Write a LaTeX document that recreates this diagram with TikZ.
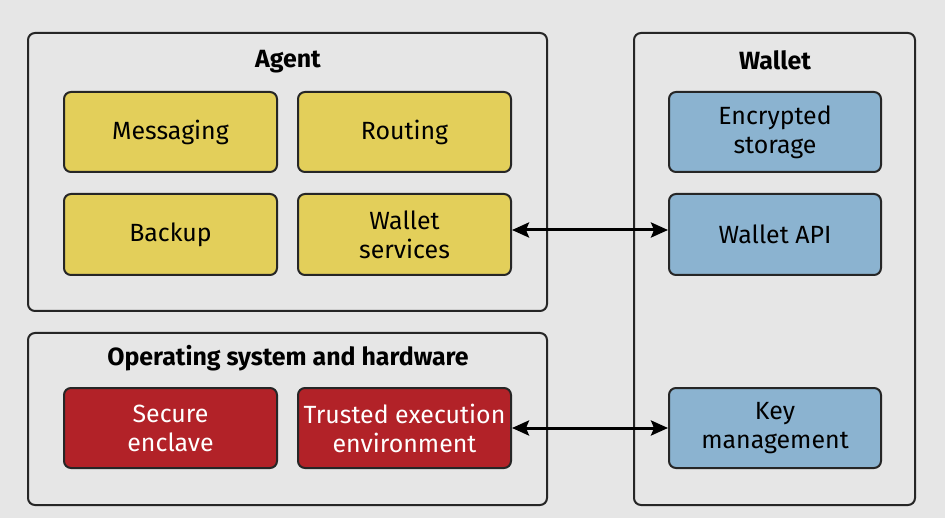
\documentclass[tikz,border=0pt]{standalone}
\usepackage{fontspec}
\setmainfont{Fira Sans}
\usetikzlibrary{arrows.meta}
\definecolor{bg}{HTML}{E6E6E6}
\definecolor{yel}{HTML}{E3CF5A}
\definecolor{blu}{HTML}{8BB3D0}
\definecolor{red1}{HTML}{B22228}
\begin{document}
\begin{tikzpicture}[x=1bp,y=-1bp,
 outer/.style={draw=black!85,line width=2bp,rounded corners=7bp,fill=bg},
 box/.style={draw=black!85,line width=2bp,rounded corners=7bp,align=center,font=\fontsize{25}{29}\selectfont,inner sep=0pt},
 ttl/.style={font=\fontsize{25}{28}\selectfont\bfseries},
 arr/.style={{Stealth[length=17bp,width=15bp,inset=3bp]}-{Stealth[length=17bp,width=15bp,inset=3bp]},line width=3bp}]
\fill[bg] (0,0) rectangle (945,518);
\useasboundingbox (0,0) rectangle (945,518);
\draw[outer] (28,33) rectangle (547,311);
\draw[outer] (28,333) rectangle (547,505);
\draw[outer] (634,33) rectangle (915,505);
\node[ttl] (tA) at (288,62) {Agent};
\node[ttl] (tO) at (288,358) {Operating system and hardware};
\node[ttl] (tW) at (775,60) {Wallet};
\newcommand{\bx}[6]{\draw[box,fill=#6] (#2,#3) rectangle (#4,#5); \coordinate (#1) at ({(#2+#4)/2},{(#3+#5)/2});}
\bx{m}{64}{92}{277}{172}{yel}\node[box,draw=none] (mt) at (m) {Messaging};
\bx{r}{298}{92}{511}{172}{yel}\node[box,draw=none] (rt) at (r) {Routing};
\bx{b}{64}{194}{277}{275}{yel}\node[box,draw=none] (bt) at (b) {Backup};
\bx{ws}{298}{194}{511}{275}{yel}\node[box,draw=none,minimum width=213bp] (wst) at (ws) {Wallet\\services};
\bx{se}{64}{388}{277}{468}{red1}\node[box,draw=none,text=white] (set) at (se) {Secure\\enclave};
\bx{te}{298}{388}{511}{468}{red1}\node[box,draw=none,text=white,minimum width=213bp] (tet) at (te) {Trusted execution\\environment};
\bx{es}{669}{92}{881}{172}{blu}\node[box,draw=none] (est) at (es) {Encrypted\\storage};
\bx{wa}{669}{194}{881}{275}{blu}\node[box,draw=none,minimum width=212bp] (wat) at (wa) {Wallet API};
\bx{km}{669}{388}{881}{468}{blu}\node[box,draw=none,minimum width=212bp] (kmt) at (km) {Key\\management};
\coordinate (a1) at (512,230); \coordinate (a2) at (668,230);
\coordinate (b1) at (512,428); \coordinate (b2) at (668,428);
\draw[arr] (a1) -- (a2);
\draw[arr] (b1) -- (b2);
\end{tikzpicture}
\end{document}
